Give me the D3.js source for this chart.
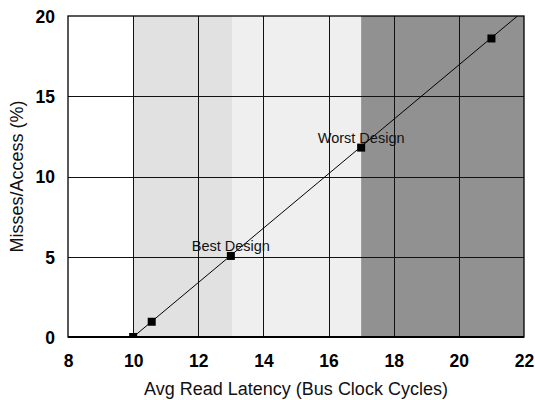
<!DOCTYPE html>
<html>
<head>
<meta charset="utf-8">
<script src="https://cdn.jsdelivr.net/npm/d3@7/dist/d3.min.js"></script>
<style>
  html, body { margin: 0; padding: 0; background: #fff; }
  svg { display: block; font-family: "Liberation Sans", Arial, sans-serif; }
</style>
</head>
<body>
<svg id="chart" width="535" height="400"></svg>
<script>
// Design points: average read latency vs. miss rate
const latency = [10, 10.57, 13, 17, 21];
const missRate = [0, 0.95, 5.05, 11.8, 18.6];

// Trend line through the design points
const trendX = [10, 21.8];
const trendY = [0, 20];

// Shaded latency regions
const bandStart = [10, 13.05, 17];
const bandEnd = [13.05, 17, 22];
const bandFill = ["#e1e1e1", "#efefef", "#919191"];

// Annotated designs
const noteX = [13, 17];
const noteY = [5.05, 11.8];
const noteText = ["Best Design", "Worst Design"];

const xTicks = [8, 10, 12, 14, 16, 18, 20, 22];
const yTicks = [0, 5, 10, 15, 20];

const svg = d3.select("#chart");
const m = { left: 68, right: 524, top: 16, bottom: 337 };

const x = d3.scaleLinear().domain([8, 22]).range([m.left, m.right]);
const y = d3.scaleLinear().domain([0, 20]).range([m.bottom, m.top]);

svg.append("defs").append("clipPath").attr("id", "plot-clip")
  .append("rect")
  .attr("x", m.left).attr("y", m.top)
  .attr("width", m.right - m.left).attr("height", m.bottom - m.top);

// Background bands
svg.append("g").selectAll("rect")
  .data(bandStart.map((s, i) => ({ s, e: bandEnd[i], c: bandFill[i] })))
  .join("rect")
  .attr("x", d => x(d.s))
  .attr("y", m.top)
  .attr("width", d => x(d.e) - x(d.s))
  .attr("height", m.bottom - m.top)
  .attr("fill", d => d.c);

// Grid lines
const grid = svg.append("g").attr("stroke", "#111").attr("stroke-width", 1);
grid.selectAll("line.v")
  .data(xTicks.filter(t => t > 8 && t < 22))
  .join("line").attr("class", "v")
  .attr("x1", d => Math.round(x(d)) + 0.5).attr("x2", d => Math.round(x(d)) + 0.5)
  .attr("y1", m.top).attr("y2", m.bottom);
grid.selectAll("line.h")
  .data(yTicks.filter(t => t > 0 && t < 20))
  .join("line").attr("class", "h")
  .attr("y1", d => Math.round(y(d)) + 0.5).attr("y2", d => Math.round(y(d)) + 0.5)
  .attr("x1", m.left).attr("x2", m.right);

// Trend line and markers
const plot = svg.append("g").attr("clip-path", "url(#plot-clip)");
plot.append("path")
  .datum(trendX.map((v, i) => [v, trendY[i]]))
  .attr("fill", "none").attr("stroke", "#000").attr("stroke-width", 1)
  .attr("d", d3.line().x(d => x(d[0])).y(d => y(d[1])));

const ms = 8;
plot.selectAll("rect.pt")
  .data(latency.map((v, i) => [v, missRate[i]]))
  .join("rect").attr("class", "pt")
  .attr("x", d => x(d[0]) - ms / 2)
  .attr("y", d => y(d[1]) - ms / 2)
  .attr("width", ms).attr("height", ms)
  .attr("fill", "#000");

// Frame
svg.append("rect")
  .attr("x", m.left).attr("y", m.top)
  .attr("width", m.right - m.left).attr("height", m.bottom - m.top)
  .attr("fill", "none").attr("stroke", "#000").attr("stroke-width", 1.3);
svg.append("line")
  .attr("x1", m.left).attr("x2", m.right)
  .attr("y1", m.bottom).attr("y2", m.bottom)
  .attr("stroke", "#000").attr("stroke-width", 2.2);

// Annotations
svg.append("g").selectAll("text")
  .data(noteText.map((t, i) => ({ t, x: noteX[i], y: noteY[i] })))
  .join("text")
  .attr("x", d => x(d.x))
  .attr("y", d => y(d.y) - 5)
  .attr("text-anchor", "middle")
  .attr("font-size", 14.5)
  .attr("fill", "#111")
  .text(d => d.t);

// Axes
const xAxis = d3.axisBottom(x).tickValues(xTicks).tickSize(0).tickPadding(0).tickFormat(d3.format("d"));
const gx = svg.append("g").attr("transform", `translate(0,${m.bottom})`).call(xAxis);
gx.select(".domain").remove();
gx.selectAll("text")
  .attr("y", 30).attr("dy", 0)
  .attr("font-size", 17.5).attr("font-weight", "bold")
  .attr("font-family", "Liberation Sans, Arial, sans-serif")
  .attr("fill", "#000");

const yAxis = d3.axisLeft(y).tickValues(yTicks).tickSize(0).tickPadding(0).tickFormat(d3.format("d"));
const gy = svg.append("g").attr("transform", `translate(${m.left},0)`).call(yAxis);
gy.select(".domain").remove();
gy.selectAll("text")
  .attr("x", -13).attr("dy", "0.36em")
  .attr("font-size", 17.5).attr("font-weight", "bold")
  .attr("font-family", "Liberation Sans, Arial, sans-serif")
  .attr("fill", "#000");

// Axis titles
svg.append("text")
  .attr("x", (m.left + m.right) / 2)
  .attr("y", 395)
  .attr("text-anchor", "middle")
  .attr("font-size", 18)
  .attr("fill", "#111")
  .text("Avg Read Latency (Bus Clock Cycles)");

svg.append("text")
  .attr("transform", `translate(23,${(m.top + m.bottom) / 2}) rotate(-90)`)
  .attr("text-anchor", "middle")
  .attr("font-size", 18)
  .attr("fill", "#111")
  .text("Misses/Access (%)");
</script>
</body>
</html>
